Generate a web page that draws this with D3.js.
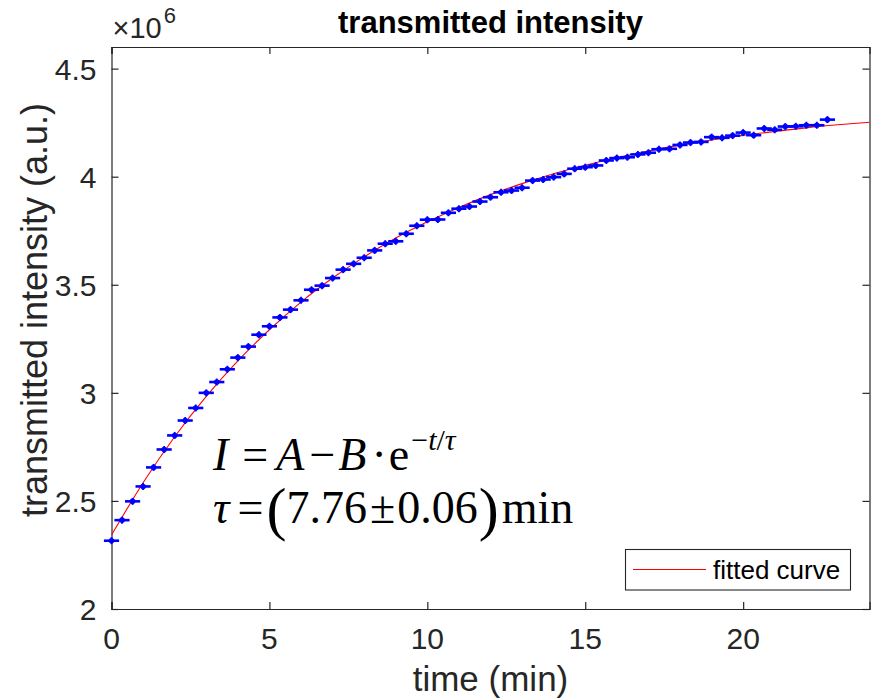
<!DOCTYPE html>
<html>
<head>
<meta charset="utf-8">
<script src="https://cdn.jsdelivr.net/npm/d3@7"></script>
<style>
  body { margin: 0; background: #fff; }
  svg { display: block; }
</style>
</head>
<body>
<div id="chart"></div>
<script>
// measured time (min), one sample every 20 s
var time = [0, 0.333, 0.667, 1, 1.333, 1.667, 2, 2.333, 2.667, 3, 3.333, 3.667,
  4, 4.333, 4.667, 5, 5.333, 5.667, 6, 6.333, 6.667, 7, 7.333, 7.667,
  8, 8.333, 8.667, 9, 9.333, 9.667, 10, 10.333, 10.667, 11, 11.333, 11.667,
  12, 12.333, 12.667, 13, 13.333, 13.667, 14, 14.333, 14.667, 15, 15.333, 15.667,
  16, 16.333, 16.667, 17, 17.333, 17.667, 18, 18.333, 18.667, 19, 19.333, 19.667,
  20, 20.333, 20.667, 21, 21.333, 21.667, 22, 22.333, 22.667];

// transmitted intensity (x 10^6 a.u.)
var intensity = [2.316, 2.411, 2.498, 2.567, 2.655, 2.738, 2.803, 2.872, 2.930, 3.000, 3.050, 3.109,
  3.163, 3.214, 3.269, 3.308, 3.349, 3.385, 3.428, 3.477, 3.496, 3.531, 3.570, 3.597,
  3.625, 3.659, 3.690, 3.701, 3.736, 3.773, 3.801, 3.802, 3.833, 3.852, 3.862, 3.885,
  3.905, 3.928, 3.936, 3.949, 3.982, 3.987, 3.998, 4.013, 4.037, 4.044, 4.052, 4.075,
  4.086, 4.090, 4.103, 4.111, 4.127, 4.129, 4.147, 4.158, 4.161, 4.183, 4.180, 4.190,
  4.204, 4.192, 4.223, 4.217, 4.232, 4.233, 4.238, 4.238, 4.264];

// fitted curve, read at whole minutes
var fitTime = [0, 1, 2, 3, 4, 5, 6, 7, 8, 9, 10, 11, 12, 13, 14, 15, 16, 17, 18, 19, 20, 21, 22, 23, 24];
var fitIntensity = [2.342, 2.584, 2.797, 2.984, 3.148, 3.292, 3.420, 3.531, 3.629, 3.716, 3.791, 3.858,
  3.917, 3.968, 4.014, 4.053, 4.088, 4.119, 4.146, 4.170, 4.191, 4.209, 4.226, 4.240, 4.252];

// horizontal half width of the error bars (min)
var timeErr = 0.24;

var xTicks = [0, 5, 10, 15, 20];
var yTicks = [2, 2.5, 3, 3.5, 4, 4.5];

var width = 872,
    height = 700,
    margin = {top: 47, right: 2.5, bottom: 91, left: 111.5};

var axisColor = '#262626',
    font = '"Liberation Sans", Arial, sans-serif',
    serif = '"Liberation Serif", "Times New Roman", serif';

var svg = d3.select('#chart')
  .append('svg')
  .attr('width', width)
  .attr('height', height);

var x = d3.scaleLinear().domain([0, 24]).range([margin.left, width - margin.right]);
var y = d3.scaleLinear().domain([2, 4.6]).range([height - margin.bottom, margin.top]);

var x0 = x.range()[0], x1 = x.range()[1],
    y0 = y.range()[0], y1 = y.range()[1];

var tickLen = 7;

/**
 * Draws one side of the box with inward MATLAB-style ticks, no labels.
 */
function drawAxis(axis, transform) {
  var g = svg.append('g')
    .attr('transform', transform)
    .call(axis.tickSize(tickLen).tickFormat(''));
  g.select('.domain').attr('stroke', axisColor).attr('stroke-width', 1.2);
  g.selectAll('.tick line').attr('stroke', axisColor).attr('stroke-width', 1.2);
  return g;
}

var fmt = function(d) { return String(d); };

// inward ticks: bottom axis ticks point up, etc.
drawAxis(d3.axisTop(x).tickValues(xTicks), 'translate(0,' + y0 + ')');
drawAxis(d3.axisBottom(x).tickValues(xTicks), 'translate(0,' + y1 + ')');
drawAxis(d3.axisRight(y).tickValues(yTicks), 'translate(' + x0 + ',0)');
drawAxis(d3.axisLeft(y).tickValues(yTicks), 'translate(' + x1 + ',0)');

// tick labels
svg.append('g').selectAll('text')
  .data(xTicks)
  .join('text')
  .attr('x', function(d) { return x(d); })
  .attr('y', y0 + 40)
  .attr('text-anchor', 'middle')
  .attr('fill', axisColor)
  .style('font-family', font)
  .style('font-size', '30px')
  .text(fmt);

svg.append('g').selectAll('text')
  .data(yTicks)
  .join('text')
  .attr('x', x0 - 15)
  .attr('y', function(d) { return y(d) + 11; })
  .attr('text-anchor', 'end')
  .attr('fill', axisColor)
  .style('font-family', font)
  .style('font-size', '30px')
  .text(fmt);

// exponent label
var expo = svg.append('text')
  .attr('x', x0 + 1)
  .attr('y', 38)
  .attr('fill', axisColor)
  .style('font-family', font)
  .style('font-size', '29px');
expo.append('tspan').text('\u00d710');
expo.append('tspan').attr('dx', 2).attr('dy', -15).style('font-size', '22px').text('6');

// title and axis labels
svg.append('text')
  .attr('x', (x0 + x1) / 2)
  .attr('y', 33)
  .attr('text-anchor', 'middle')
  .attr('fill', '#000')
  .style('font-family', font)
  .style('font-size', '31px')
  .style('font-weight', 'bold')
  .text('transmitted intensity');

svg.append('text')
  .attr('x', (x0 + x1) / 2)
  .attr('y', 691)
  .attr('text-anchor', 'middle')
  .attr('fill', axisColor)
  .style('font-family', font)
  .style('font-size', '35px')
  .text('time (min)');

svg.append('text')
  .attr('transform', 'translate(47,310) rotate(-90)')
  .attr('text-anchor', 'middle')
  .attr('fill', axisColor)
  .style('font-family', font)
  .style('font-size', '36px')
  .text('transmitted intensity (a.u.)');

// fitted curve
var line = d3.line()
  .x(function(d) { return x(d[0]); })
  .y(function(d) { return y(d[1]); })
  .curve(d3.curveMonotoneX);

svg.append('path')
  .datum(d3.zip(fitTime, fitIntensity))
  .attr('d', line)
  .attr('fill', 'none')
  .attr('stroke', '#ff0000')
  .attr('stroke-width', 1.1);

// measured points with horizontal error bars
var pts = svg.append('g')
  .selectAll('g')
  .data(d3.zip(time, intensity))
  .join('g')
  .attr('transform', function(d) { return 'translate(' + x(d[0]) + ',' + y(d[1]) + ')'; });

pts.append('line')
  .attr('x1', function(d) { return x(d[0] - timeErr) - x(d[0]); })
  .attr('x2', function(d) { return x(d[0] + timeErr) - x(d[0]); })
  .attr('stroke', '#0000ff')
  .attr('stroke-width', 2.6);

pts.append('line')
  .attr('y1', -3.5)
  .attr('y2', 3.5)
  .attr('stroke', '#0000ff')
  .attr('stroke-width', 1.8);

pts.append('circle')
  .attr('r', 2.8)
  .attr('fill', '#0000ff');

// equation
var eq1 = svg.append('text')
  .attr('x', 213)
  .attr('y', 470)
  .attr('fill', '#000')
  .style('font-family', serif)
  .style('font-size', '46px');
eq1.append('tspan').style('font-style', 'italic').text('I');
eq1.append('tspan').attr('dx', 14).text('=');
eq1.append('tspan').attr('dx', 8).style('font-style', 'italic').text('A');
eq1.append('tspan').attr('dx', 5).text('\u2212');
eq1.append('tspan').attr('dx', 3).style('font-style', 'italic').text('B');
eq1.append('tspan').attr('dx', 5).text('\u00b7');
eq1.append('tspan').attr('dx', 2).text('e');
eq1.append('tspan').attr('dy', -20).attr('dx', 2).style('font-size', '30px').text('\u2212');
eq1.append('tspan').style('font-size', '30px').style('font-style', 'italic').text('t');
eq1.append('tspan').style('font-size', '30px').text('/');
eq1.append('tspan').style('font-size', '30px').style('font-style', 'italic').text('\u03c4');

var eq2 = svg.append('text')
  .attr('x', 213)
  .attr('y', 523)
  .attr('fill', '#000')
  .style('font-family', serif)
  .style('font-size', '46px');
eq2.append('tspan').style('font-style', 'italic').text('\u03c4');
eq2.append('tspan').attr('dx', 8).text('=');
eq2.append('tspan').attr('dx', 3).attr('dy', 6).style('font-size', '60px').text('(');
eq2.append('tspan').attr('dy', -6).text('7.76');
eq2.append('tspan').attr('dx', 3).text('\u00b1');
eq2.append('tspan').attr('dx', 2).text('0.06');
eq2.append('tspan').attr('dx', 1).attr('dy', 6).style('font-size', '60px').text(')');
eq2.append('tspan').attr('dx', 3).attr('dy', -6).text('min');

// legend
var legend = svg.append('g');
legend.append('rect')
  .attr('x', 625.5)
  .attr('y', 549.5)
  .attr('width', 225)
  .attr('height', 40.5)
  .attr('fill', '#fff')
  .attr('stroke', axisColor)
  .attr('stroke-width', 1.1);
legend.append('line')
  .attr('x1', 633)
  .attr('x2', 706)
  .attr('y1', 569.5)
  .attr('y2', 569.5)
  .attr('stroke', '#ff0000')
  .attr('stroke-width', 1.1);
legend.append('text')
  .attr('x', 713)
  .attr('y', 579)
  .attr('fill', '#000')
  .style('font-family', font)
  .style('font-size', '26px')
  .text('fitted curve');
</script>
</body>
</html>
